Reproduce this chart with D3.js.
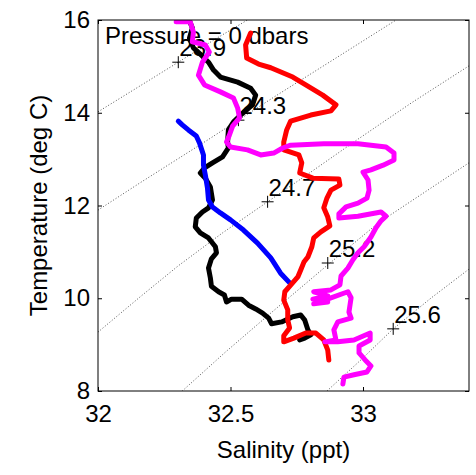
<!DOCTYPE html>
<html>
<head>
<meta charset="utf-8">
<script src="https://cdn.jsdelivr.net/npm/d3@7"></script>
<style>
    body { margin: 0; background: #fff; }
    svg text { font-family: "Liberation Sans", Arial, Helvetica, sans-serif; fill: #000; }
</style>
</head>
<body>
<svg id="chart" width="476" height="475"></svg>
<script>

// axis ticks
const salinityTicks = [32, 32.5, 33];
const temperatureTicks = [8, 10, 12, 14, 16];

// sigma-t contours, [salinity, temperature]
const contourLevels = ["23.9", "24.3", "24.7", "25.2", "25.6"];
const contourLines = [
    [[32.000, 14.02], [32.159, 14.58], [32.303, 15.09], [32.443, 15.59], [32.564, 16.00]],
    [[32.000, 11.90], [32.159, 12.49], [32.413, 13.41], [32.670, 14.36], [32.898, 15.18], [33.125, 16.00]],
    [[32.000, 9.27], [32.159, 10.03], [32.303, 10.70], [32.470, 11.41], [32.640, 12.08], [32.803, 12.72], [32.981, 13.43], [33.182, 14.21], [33.405, 15.03]],
    [[32.318, 8.00], [32.481, 8.84], [32.652, 9.68], [32.867, 10.72], [33.057, 11.62], [33.405, 12.94]],
    [[32.864, 8.00], [32.992, 8.67], [33.114, 9.34], [33.258, 10.01], [33.405, 10.65]]
];
// where each contour label sits
const contourLabelPos = [[32.303, 15.09], [32.530, 13.84], [32.640, 12.08], [32.867, 10.76], [33.114, 9.34]];

// casts, [salinity, temperature]
const blackCast = [
    [32.341, 16.04], [32.356, 15.83], [32.345, 15.61], [32.360, 15.40], [32.394, 15.22], [32.417, 15.09],
    [32.436, 14.92], [32.462, 14.77], [32.527, 14.66], [32.576, 14.53], [32.595, 14.38], [32.583, 14.17],
    [32.538, 13.95], [32.511, 13.80], [32.492, 13.63], [32.489, 13.37], [32.492, 13.24], [32.470, 13.05],
    [32.432, 12.92], [32.402, 12.81], [32.386, 12.70], [32.405, 12.59], [32.424, 12.40], [32.432, 12.12],
    [32.417, 11.95], [32.394, 11.86], [32.371, 11.73], [32.367, 11.54], [32.386, 11.41], [32.417, 11.30],
    [32.443, 11.11], [32.447, 10.98], [32.428, 10.85], [32.417, 10.65], [32.424, 10.44], [32.428, 10.26],
    [32.455, 10.14], [32.477, 10.07], [32.485, 9.92], [32.504, 9.98], [32.542, 9.98], [32.568, 9.85],
    [32.595, 9.77], [32.621, 9.68], [32.644, 9.57], [32.655, 9.45], [32.693, 9.49], [32.735, 9.60],
    [32.765, 9.64], [32.780, 9.53], [32.792, 9.32], [32.803, 9.21], [32.780, 9.14], [32.761, 9.10]
];
const blueCast = [
    [32.303, 13.82], [32.318, 13.74], [32.341, 13.63], [32.371, 13.50], [32.383, 13.35], [32.398, 13.09],
    [32.398, 12.87], [32.405, 12.66], [32.413, 12.38], [32.417, 12.12], [32.432, 11.97], [32.462, 11.84],
    [32.500, 11.69], [32.549, 11.47], [32.602, 11.19], [32.652, 10.87], [32.689, 10.54], [32.727, 10.31]
];
const redCast = [
    [32.576, 15.72], [32.557, 15.46], [32.561, 15.18], [32.606, 15.05], [32.652, 14.97], [32.735, 14.77],
    [32.784, 14.60], [32.848, 14.38], [32.898, 14.17], [32.879, 14.04], [32.803, 13.95], [32.727, 13.82],
    [32.712, 13.63], [32.701, 13.37], [32.701, 13.20], [32.727, 13.15], [32.758, 13.09], [32.769, 12.92],
    [32.761, 12.70], [32.811, 12.59], [32.909, 12.57], [32.913, 12.44], [32.879, 12.33], [32.864, 12.16],
    [32.852, 11.95], [32.867, 11.75], [32.875, 11.56], [32.841, 11.43], [32.814, 11.30], [32.807, 11.11],
    [32.792, 10.89], [32.777, 10.78], [32.765, 10.61], [32.754, 10.46], [32.731, 10.31], [32.705, 10.14],
    [32.701, 9.96], [32.716, 9.75], [32.716, 9.53], [32.723, 9.36], [32.701, 9.19], [32.701, 9.06],
    [32.739, 9.14], [32.784, 9.25], [32.822, 9.25], [32.852, 9.10], [32.867, 8.88], [32.871, 8.67]
];
const magentaCast = [
    [32.295, 15.96], [32.348, 15.96], [32.360, 15.74], [32.356, 15.53], [32.405, 15.46], [32.420, 15.31],
    [32.394, 15.09], [32.379, 14.81], [32.402, 14.60], [32.462, 14.45], [32.511, 14.32], [32.527, 14.10],
    [32.534, 13.89], [32.508, 13.71], [32.496, 13.52], [32.485, 13.37], [32.500, 13.26], [32.564, 13.20],
    [32.614, 13.09], [32.663, 13.13], [32.697, 13.24], [32.727, 13.30], [32.852, 13.33], [32.981, 13.33],
    [33.087, 13.26], [33.117, 13.13], [33.117, 12.98], [33.076, 12.87], [33.030, 12.77], [33.000, 12.72],
    [33.019, 12.55], [33.023, 12.33], [33.015, 12.16], [32.981, 12.05], [32.936, 11.97], [32.909, 11.82],
    [32.909, 11.73], [32.981, 11.77], [33.068, 11.86], [33.087, 11.77], [33.068, 11.67], [33.049, 11.52],
    [33.030, 11.32], [33.004, 11.11], [32.981, 10.98], [32.962, 10.83], [32.943, 10.65], [32.917, 10.48],
    [32.913, 10.29], [32.879, 10.18], [32.814, 10.14], [32.867, 10.05], [32.811, 9.98], [32.867, 9.92],
    [32.814, 9.88], [32.879, 10.01], [32.943, 10.14], [32.955, 10.01], [32.947, 9.70], [32.955, 9.57],
    [32.905, 9.49], [32.890, 9.32], [32.898, 9.10], [32.856, 9.06], [32.905, 9.06], [32.966, 9.10],
    [33.027, 9.25], [33.027, 9.10], [32.985, 8.97], [32.985, 8.82], [33.008, 8.67], [33.030, 8.54],
    [33.015, 8.41], [32.966, 8.35], [32.928, 8.30], [32.924, 8.15]
];

const casts = [
    { data: blackCast, color: "#000000" },
    { data: blueCast, color: "#0000ff" },
    { data: redCast, color: "#ff0000" },
    { data: magentaCast, color: "#ff00ff" }
];

const margin = { top: 20, right: 7, bottom: 84, left: 98 };
const width = 476 - margin.left - margin.right;
const height = 475 - margin.top - margin.bottom;

const svg = d3.select("#chart")
    .append("g")
    .attr("transform", `translate(${margin.left}, ${margin.top})`);

const x = d3.scaleLinear().domain([32, 33.4]).range([0, width]);
const y = d3.scaleLinear().domain([8, 16]).range([height, 0]);

svg.append("clipPath")
    .attr("id", "plot-clip")
    .append("rect")
    .attr("width", width)
    .attr("height", height);

const line = d3.line()
    .x(d => x(d[0]))
    .y(d => y(d[1]));

// density contours
svg.append("g")
    .attr("clip-path", "url(#plot-clip)")
    .selectAll("path")
    .data(contourLines)
    .join("path")
    .attr("d", line)
    .attr("fill", "none")
    .attr("stroke", "#555")
    .attr("stroke-width", 1)
    .attr("stroke-dasharray", "1,2");

// contour labels with + markers
const labels = svg.append("g")
    .selectAll("g")
    .data(contourLabelPos)
    .join("g")
    .attr("transform", d => `translate(${x(d[0])}, ${y(d[1])})`);

labels.append("path")
    .attr("d", "M-6,0H6M0,-6V6")
    .attr("stroke", "#000")
    .attr("stroke-width", 1);

labels.append("text")
    .attr("x", 1)
    .attr("y", -6)
    .style("font-size", "24px")
    .text((d, i) => contourLevels[i]);

// title inside the axes
svg.append("text")
    .attr("x", 7)
    .attr("y", 24)
    .style("font-size", "24px")
    .text("Pressure = 0 dbars");

// the four casts
svg.append("g")
    .attr("clip-path", "url(#plot-clip)")
    .selectAll("path")
    .data(casts)
    .join("path")
    .attr("d", d => line(d.data))
    .attr("fill", "none")
    .attr("stroke", d => d.color)
    .attr("stroke-width", 5)
    .attr("stroke-linejoin", "round")
    .attr("stroke-linecap", "round");

// axes, ticks pointing inward
const fmt = d3.format("");
const xAxis = svg.append("g")
    .attr("transform", `translate(0, ${height})`)
    .call(d3.axisBottom(x).tickValues(salinityTicks).tickFormat(fmt).tickSizeInner(-4).tickSizeOuter(0).tickPadding(14));
const yAxis = svg.append("g")
    .call(d3.axisLeft(y).tickValues(temperatureTicks).tickFormat(fmt).tickSizeInner(-4).tickSizeOuter(0).tickPadding(8));
svg.append("g")
    .call(d3.axisTop(x).tickValues(salinityTicks).tickFormat("").tickSizeInner(-4).tickSizeOuter(0));
svg.append("g")
    .attr("transform", `translate(${width}, 0)`)
    .call(d3.axisRight(y).tickValues(temperatureTicks).tickFormat("").tickSizeInner(-4).tickSizeOuter(0));

svg.selectAll(".domain").remove();
svg.selectAll(".tick line").attr("stroke", "#000");
svg.selectAll(".tick text")
    .style("font-size", "24px")
    .style("font-family", "'Liberation Sans', Arial, Helvetica, sans-serif")
    .attr("fill", "#000");

svg.append("rect")
    .attr("width", width)
    .attr("height", height)
    .attr("fill", "none")
    .attr("stroke", "#000")
    .attr("stroke-width", 1);

// axis labels
svg.append("text")
    .attr("x", width / 2)
    .attr("y", height + 67)
    .attr("text-anchor", "middle")
    .style("font-size", "24px")
    .text("Salinity (ppt)");

svg.append("text")
    .attr("transform", `translate(-51, ${height / 2}) rotate(-90)`)
    .attr("text-anchor", "middle")
    .style("font-size", "24px")
    .text("Temperature (deg C)");

</script>
</body>
</html>
